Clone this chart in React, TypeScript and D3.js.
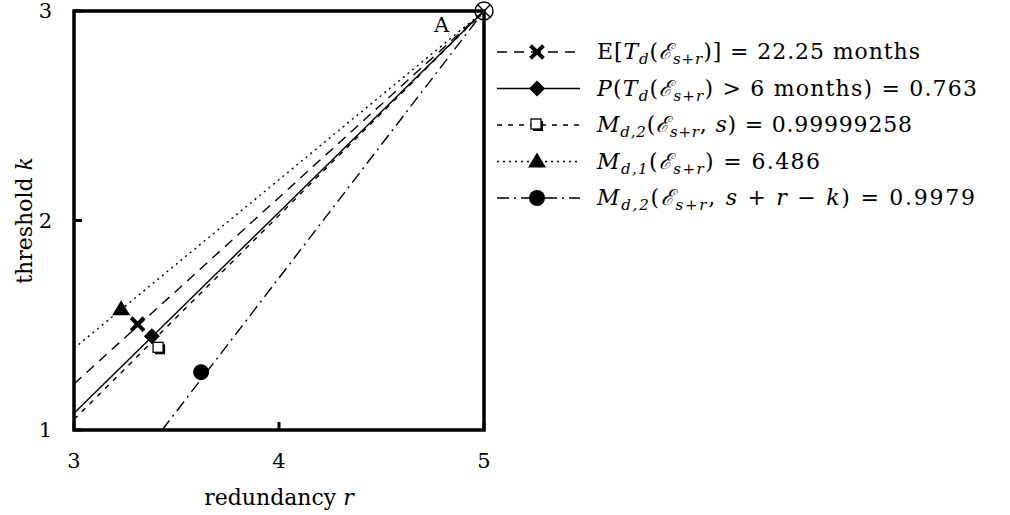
import React, { useRef, useEffect } from "react";
import * as d3 from "d3";

// axis ticks
const xTicks = [3, 4, 5];
const yTicks = [1, 2, 3];

// every line runs from a start point on the frame up to point A (5, 3)
const seriesNames = ["expected", "prob", "md2s", "md1", "md2srk"];
const startX = [3, 3, 3, 3, 3.43];
const startY = [1.22, 1.08, 1.05, 1.39, 1];
const markerX = [3.31, 3.38, 3.415, 3.23, 3.62];
const markerY = [1.505, 1.448, 1.39, 1.576, 1.276];
const pointA = [5, 3];

// legend labels, split into pieces: r = roman, i = italic, s = subscript
const legendLabels = [
  [["r", "E["], ["i", "T"], ["s", "d"], ["r", "("], ["i", "ℰ"], ["s", "s+r"], ["r", ")] = 22.25 months"]],
  [["i", "P"], ["r", "("], ["i", "T"], ["s", "d"], ["r", "("], ["i", "ℰ"], ["s", "s+r"], ["r", ") > 6 months) = 0.763"]],
  [["i", "M"], ["s", "d,2"], ["r", "("], ["i", "ℰ"], ["s", "s+r"], ["r", ", "], ["i", "s"], ["r", ") = 0.99999258"]],
  [["i", "M"], ["s", "d,1"], ["r", "("], ["i", "ℰ"], ["s", "s+r"], ["r", ") = 6.486"]],
  [["i", "M"], ["s", "d,2"], ["r", "("], ["i", "ℰ"], ["s", "s+r"], ["r", ", "], ["i", "s"], ["r", " + "], ["i", "r"], ["r", " − "], ["i", "k"], ["r", ") = 0.9979"]],
];
// rendered width of each legend label in the original
const legendWidths = [323, 380, 315, 223, 378];

const dashes = ["10,7", null, "5,6", "2,4", "12,5,2,5"];
const markerKinds = ["cross", "diamond", "box", "triangle", "circle"];

function App() {
  const ref = useRef(null);

  useEffect(() => {
    const svg = d3.select(ref.current);
    svg.selectAll("*").remove();

    const margin = { top: 11, left: 74 };
    const width = 410;
    const height = 419;
    const font = "DejaVu Serif";

    const x = d3.scaleLinear().domain([3, 5]).range([margin.left, margin.left + width]);
    const y = d3.scaleLinear().domain([1, 3]).range([margin.top + height, margin.top]);

    const drawMarker = (g, kind, cx, cy) => {
      if (kind === "cross") {
        g.append("path")
          .attr("d", d3.symbol(d3.symbolX, 110)())
          .attr("transform", `translate(${cx},${cy})`)
          .attr("stroke", "#000")
          .attr("stroke-width", 4);
      } else if (kind === "diamond") {
        g.append("path")
          .attr("d", "M0,-8L8,0L0,8L-8,0Z")
          .attr("transform", `translate(${cx},${cy})`)
          .attr("fill", "#000");
      } else if (kind === "box") {
        g.append("rect")
          .attr("x", cx - 4).attr("y", cy - 4)
          .attr("width", 10).attr("height", 10)
          .attr("fill", "#000");
        g.append("rect")
          .attr("x", cx - 6).attr("y", cy - 6)
          .attr("width", 10).attr("height", 10)
          .attr("fill", "#fff")
          .attr("stroke", "#000")
          .attr("stroke-width", 1.3);
      } else if (kind === "triangle") {
        g.append("path")
          .attr("d", "M0,-9L9,6L-9,6Z")
          .attr("transform", `translate(${cx},${cy})`)
          .attr("fill", "#000");
      } else {
        g.append("circle")
          .attr("cx", cx).attr("cy", cy).attr("r", 8)
          .attr("fill", "#000");
      }
    };

    const label = (g, size = 21) =>
      g.append("text")
        .style("font-family", font)
        .style("font-size", `${size}px`);

    const plot = svg.append("g");
    plot.append("defs").append("clipPath").attr("id", "clip")
      .append("rect")
      .attr("x", margin.left).attr("y", margin.top)
      .attr("width", width).attr("height", height);

    // series lines
    const line = d3.line().x((d) => x(d[0])).y((d) => y(d[1]));
    const lines = plot.append("g").attr("clip-path", "url(#clip)");
    seriesNames.forEach((name, i) => {
      lines.append("path")
        .datum([[startX[i], startY[i]], pointA])
        .attr("class", name)
        .attr("fill", "none")
        .attr("stroke", "#000")
        .attr("stroke-width", 1.4)
        .attr("stroke-dasharray", dashes[i])
        .attr("d", line);
    });

    // frame
    plot.append("rect")
      .attr("x", margin.left).attr("y", margin.top)
      .attr("width", width).attr("height", height)
      .attr("fill", "none")
      .attr("stroke", "#000")
      .attr("stroke-width", 3.5);

    // inward ticks
    xTicks.forEach((t) => {
      plot.append("line")
        .attr("x1", x(t)).attr("x2", x(t))
        .attr("y1", y(1)).attr("y2", y(1) - 8)
        .attr("stroke", "#000").attr("stroke-width", 3);
      label(plot)
        .attr("x", x(t)).attr("y", y(1) + 38)
        .attr("text-anchor", "middle")
        .text(t);
    });
    yTicks.forEach((t) => {
      plot.append("line")
        .attr("x1", x(3)).attr("x2", x(3) + 8)
        .attr("y1", y(t)).attr("y2", y(t))
        .attr("stroke", "#000").attr("stroke-width", 3);
      label(plot)
        .attr("x", x(3) - 22).attr("y", y(t) + 7)
        .attr("text-anchor", "end")
        .text(t);
    });

    // axis titles
    const xt = label(plot, 22)
      .attr("x", x(4)).attr("y", 505)
      .attr("text-anchor", "middle");
    xt.append("tspan").text("redundancy ");
    xt.append("tspan").attr("font-style", "italic").text("r");

    const yt = label(plot, 22)
      .attr("transform", `translate(32,${y(2)}) rotate(-90)`)
      .attr("text-anchor", "middle");
    yt.append("tspan").text("threshold ");
    yt.append("tspan").attr("font-style", "italic").text("k");

    // markers on the lines
    seriesNames.forEach((name, i) => {
      drawMarker(plot, markerKinds[i], x(markerX[i]), y(markerY[i]));
    });

    // point A
    plot.append("circle")
      .attr("cx", x(pointA[0])).attr("cy", y(pointA[1])).attr("r", 9)
      .attr("fill", "none").attr("stroke", "#000").attr("stroke-width", 1.4);
    plot.append("path")
      .attr("d", "M-6,-6L6,6M-6,6L6,-6")
      .attr("transform", `translate(${x(pointA[0])},${y(pointA[1])})`)
      .attr("stroke", "#000").attr("stroke-width", 1.4);
    label(plot)
      .attr("x", x(pointA[0]) - 50).attr("y", y(pointA[1]) + 21)
      .text("A");

    // legend
    const legend = svg.append("g").attr("transform", "translate(497,52)");
    const rowGap = 36.5;
    legendLabels.forEach((parts, i) => {
      const row = legend.append("g").attr("transform", `translate(0,${i * rowGap})`);
      row.append("line")
        .attr("x1", 0).attr("x2", 83)
        .attr("y1", 0).attr("y2", 0)
        .attr("stroke", "#000").attr("stroke-width", 1.4)
        .attr("stroke-dasharray", dashes[i]);
      drawMarker(row, markerKinds[i], 40, 0);
      const txt = label(row, 22)
        .attr("x", 100).attr("y", 7)
        .attr("textLength", legendWidths[i])
        .attr("lengthAdjust", "spacing");
      let sub = false;
      parts.forEach(([kind, s]) => {
        const ts = txt.append("tspan").text(s);
        if (kind === "i") ts.attr("font-style", "italic");
        if (kind === "s") {
          ts.style("font-size", "15px").attr("font-style", "italic").attr("dy", 5);
          sub = true;
        } else if (sub) {
          ts.attr("dy", -5);
          sub = false;
        }
      });
    });
  }, []);

  return (
    <svg
      ref={ref}
      width={1010}
      height={515}
      style={{ position: "absolute", left: 0, top: 0, background: "#fff" }}
    />
  );
}

export default App;
